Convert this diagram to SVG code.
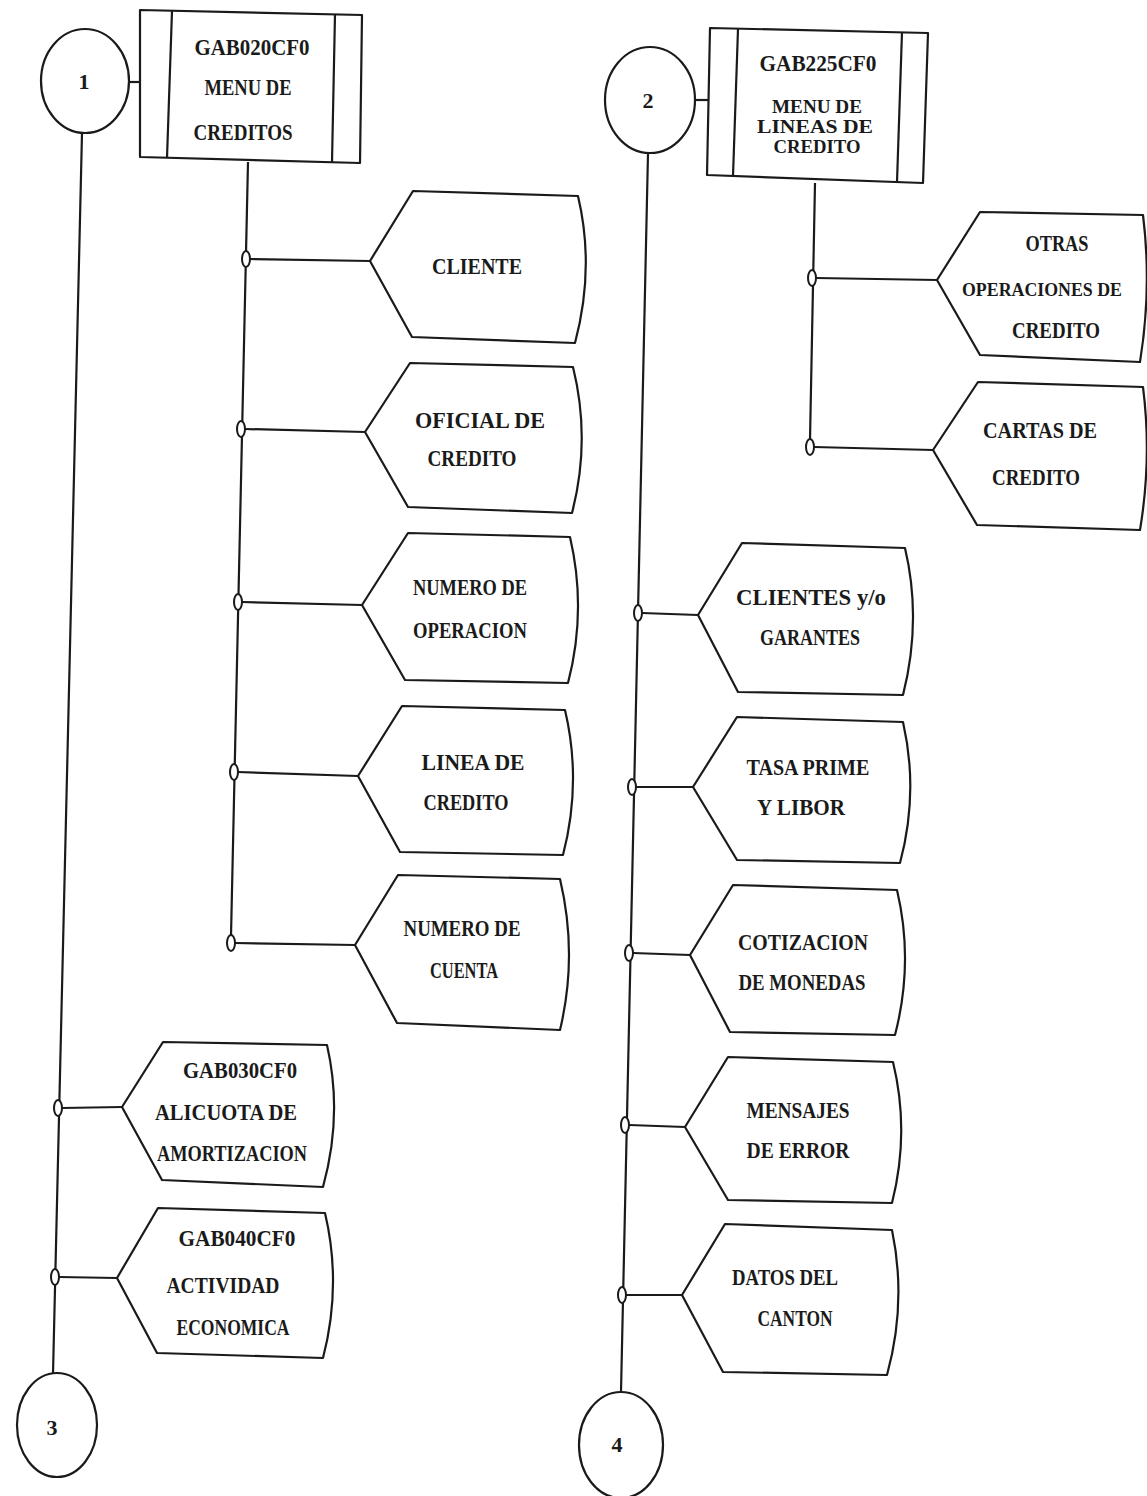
<svg xmlns="http://www.w3.org/2000/svg" width="1147" height="1496" viewBox="0 0 1147 1496">
<style>
.s{fill:#fff;stroke:#1a1a1a;stroke-width:2.2;stroke-linejoin:round}
.l{fill:none;stroke:#1a1a1a;stroke-width:2.2}
.j{fill:#fff;stroke:#1a1a1a;stroke-width:2}
.t{font-family:"Liberation Serif","DejaVu Serif",serif;font-weight:bold;font-size:23px;fill:#1a1a1a;text-anchor:middle}
.tc{font-size:19px}
.n{font-family:"Liberation Serif","DejaVu Serif",serif;font-weight:bold;font-size:22px;fill:#1a1a1a;text-anchor:middle}
</style>
<rect width="1147" height="1496" fill="#fff"/>
<g id="connectors">
<line class="l" x1="82" y1="133" x2="53" y2="1374"/>
<line class="l" x1="648" y1="153" x2="621" y2="1392"/>
<line class="l" x1="248" y1="162" x2="231" y2="936"/>
<line class="l" x1="815" y1="183" x2="810" y2="440"/>
<line class="l" x1="129" y1="82" x2="141" y2="82"/>
<line class="l" x1="695" y1="100" x2="709" y2="100"/>
<line class="l" x1="250" y1="259" x2="370" y2="261"/>
<line class="l" x1="245" y1="429" x2="365" y2="432"/>
<line class="l" x1="242" y1="602" x2="362" y2="605"/>
<line class="l" x1="238" y1="772" x2="358" y2="776"/>
<line class="l" x1="235" y1="943" x2="355" y2="945"/>
<line class="l" x1="62" y1="1108" x2="122" y2="1107"/>
<line class="l" x1="59" y1="1277" x2="117" y2="1278"/>
<line class="l" x1="816" y1="278" x2="937" y2="280"/>
<line class="l" x1="814" y1="447" x2="933" y2="450"/>
<line class="l" x1="642" y1="613" x2="698" y2="615"/>
<line class="l" x1="636" y1="787" x2="693" y2="787"/>
<line class="l" x1="633" y1="953" x2="690" y2="955"/>
<line class="l" x1="629" y1="1125" x2="685" y2="1127"/>
<line class="l" x1="626" y1="1295" x2="682" y2="1295"/>
<ellipse class="j" cx="246" cy="259" rx="4" ry="8"/>
<ellipse class="j" cx="241" cy="429" rx="4" ry="8"/>
<ellipse class="j" cx="238" cy="602" rx="4" ry="8"/>
<ellipse class="j" cx="234" cy="772" rx="4" ry="8"/>
<ellipse class="j" cx="231" cy="943" rx="4" ry="8"/>
<ellipse class="j" cx="58" cy="1108" rx="4" ry="8"/>
<ellipse class="j" cx="55" cy="1277" rx="4" ry="8"/>
<ellipse class="j" cx="812" cy="278" rx="4" ry="8"/>
<ellipse class="j" cx="810" cy="447" rx="4" ry="8"/>
<ellipse class="j" cx="638" cy="613" rx="4" ry="8"/>
<ellipse class="j" cx="632" cy="787" rx="4" ry="8"/>
<ellipse class="j" cx="629" cy="953" rx="4" ry="8"/>
<ellipse class="j" cx="625" cy="1125" rx="4" ry="8"/>
<ellipse class="j" cx="622" cy="1295" rx="4" ry="8"/>
</g>
<g id="c1"><ellipse class="s" cx="85" cy="81" rx="44" ry="52"/><text class="n" x="84" y="89">1</text></g>
<g id="c2"><ellipse class="s" cx="650" cy="100" rx="45" ry="53"/><text class="n" x="648" y="108">2</text></g>
<g id="c3"><ellipse class="s" cx="57" cy="1425" rx="40" ry="52"/><text class="n" x="52" y="1435">3</text></g>
<g id="c4"><ellipse class="s" cx="621" cy="1445" rx="42" ry="53"/><text class="n" x="617" y="1452">4</text></g>
<g id="menu-creditos">
<path class="s" d="M140,10 L362,15 L360,163 L140,157 Z"/>
<line class="l" x1="172" y1="11" x2="167" y2="158"/>
<line class="l" x1="335" y1="14" x2="332" y2="162"/>
<text class="t" x="252" y="55" textLength="115" lengthAdjust="spacingAndGlyphs">GAB020CF0</text>
<text class="t" x="248" y="95" textLength="87" lengthAdjust="spacingAndGlyphs">MENU DE</text>
<text class="t" x="243" y="140" textLength="99" lengthAdjust="spacingAndGlyphs">CREDITOS</text>
</g>
<g id="menu-lineas">
<path class="s" d="M710,28 L928,33 L923,183 L707,175 Z"/>
<line class="l" x1="738" y1="29" x2="733" y2="176"/>
<line class="l" x1="902" y1="32" x2="897" y2="182"/>
<text class="t" x="818" y="71" textLength="117" lengthAdjust="spacingAndGlyphs">GAB225CF0</text>
<text class="t tc" x="817" y="113" textLength="90" lengthAdjust="spacingAndGlyphs">MENU DE</text>
<text class="t tc" x="815" y="133" textLength="116" lengthAdjust="spacingAndGlyphs">LINEAS DE</text>
<text class="t tc" x="817" y="153" textLength="87" lengthAdjust="spacingAndGlyphs">CREDITO</text>
</g>
<g id="cliente">
<path class="s" d="M370,261 L413,191 L578,196 Q595,268 575,343 L412,337 Z"/>
<text class="t" x="477" y="274" textLength="90" lengthAdjust="spacingAndGlyphs">CLIENTE</text>
</g>
<g id="oficial">
<path class="s" d="M365,432 L410,363 L573,367 Q591,440 572,513 L408,507 Z"/>
<text class="t" x="480" y="428" textLength="130" lengthAdjust="spacingAndGlyphs">OFICIAL DE</text>
<text class="t" x="472" y="466" textLength="89" lengthAdjust="spacingAndGlyphs">CREDITO</text>
</g>
<g id="numero-operacion">
<path class="s" d="M362,605 L408,533 L570,537 Q587,610 568,683 L405,680 Z"/>
<text class="t" x="470" y="595" textLength="114" lengthAdjust="spacingAndGlyphs">NUMERO DE</text>
<text class="t" x="470" y="638" textLength="114" lengthAdjust="spacingAndGlyphs">OPERACION</text>
</g>
<g id="linea-credito">
<path class="s" d="M358,776 L402,706 L565,710 Q582,782 563,855 L400,852 Z"/>
<text class="t" x="473" y="770" textLength="103" lengthAdjust="spacingAndGlyphs">LINEA DE</text>
<text class="t" x="466" y="810" textLength="85" lengthAdjust="spacingAndGlyphs">CREDITO</text>
</g>
<g id="numero-cuenta">
<path class="s" d="M355,945 L398,875 L560,879 Q578,955 560,1030 L397,1023 Z"/>
<text class="t" x="462" y="936" textLength="117" lengthAdjust="spacingAndGlyphs">NUMERO DE</text>
<text class="t" x="464" y="978" textLength="68" lengthAdjust="spacingAndGlyphs">CUENTA</text>
</g>
<g id="gab030">
<path class="s" d="M122,1107 L163,1042 L327,1045 Q343,1115 323,1187 L162,1180 Z"/>
<text class="t" x="240" y="1078" textLength="114" lengthAdjust="spacingAndGlyphs">GAB030CF0</text>
<text class="t" x="226" y="1120" textLength="142" lengthAdjust="spacingAndGlyphs">ALICUOTA DE</text>
<text class="t" x="232" y="1161" textLength="150" lengthAdjust="spacingAndGlyphs">AMORTIZACION</text>
</g>
<g id="gab040">
<path class="s" d="M117,1278 L158,1208 L325,1213 Q342,1285 323,1358 L157,1353 Z"/>
<text class="t" x="237" y="1246" textLength="117" lengthAdjust="spacingAndGlyphs">GAB040CF0</text>
<text class="t" x="223" y="1293" textLength="113" lengthAdjust="spacingAndGlyphs">ACTIVIDAD</text>
<text class="t" x="233" y="1335" textLength="113" lengthAdjust="spacingAndGlyphs">ECONOMICA</text>
</g>
<g id="otras">
<path class="s" d="M937,280 L980,212 L1143,215 Q1152,288 1140,362 L980,355 Z"/>
<text class="t" x="1057" y="251" textLength="63" lengthAdjust="spacingAndGlyphs">OTRAS</text>
<text class="t tc" x="1042" y="296" textLength="160" lengthAdjust="spacingAndGlyphs">OPERACIONES DE</text>
<text class="t" x="1056" y="338" textLength="88" lengthAdjust="spacingAndGlyphs">CREDITO</text>
</g>
<g id="cartas">
<path class="s" d="M933,450 L978,382 L1143,387 Q1152,458 1140,530 L977,525 Z"/>
<text class="t" x="1040" y="438" textLength="114" lengthAdjust="spacingAndGlyphs">CARTAS DE</text>
<text class="t" x="1036" y="485" textLength="88" lengthAdjust="spacingAndGlyphs">CREDITO</text>
</g>
<g id="clientes-garantes">
<path class="s" d="M698,615 L742,543 L905,548 Q922,620 903,695 L738,692 Z"/>
<text class="t" x="811" y="605" textLength="150" lengthAdjust="spacingAndGlyphs">CLIENTES y/o</text>
<text class="t" x="810" y="645" textLength="100" lengthAdjust="spacingAndGlyphs">GARANTES</text>
</g>
<g id="tasa">
<path class="s" d="M693,787 L737,717 L903,722 Q919,792 900,863 L737,860 Z"/>
<text class="t" x="808" y="775" textLength="123" lengthAdjust="spacingAndGlyphs">TASA PRIME</text>
<text class="t" x="801" y="815" textLength="88" lengthAdjust="spacingAndGlyphs">Y LIBOR</text>
</g>
<g id="cotizacion">
<path class="s" d="M690,955 L733,885 L897,890 Q914,962 895,1035 L730,1032 Z"/>
<text class="t" x="803" y="950" textLength="130" lengthAdjust="spacingAndGlyphs">COTIZACION</text>
<text class="t" x="802" y="990" textLength="127" lengthAdjust="spacingAndGlyphs">DE MONEDAS</text>
</g>
<g id="mensajes">
<path class="s" d="M685,1127 L728,1057 L893,1062 Q910,1132 892,1203 L728,1200 Z"/>
<text class="t" x="798" y="1118" textLength="103" lengthAdjust="spacingAndGlyphs">MENSAJES</text>
<text class="t" x="798" y="1158" textLength="103" lengthAdjust="spacingAndGlyphs">DE ERROR</text>
</g>
<g id="datos-canton">
<path class="s" d="M682,1295 L725,1224 L892,1230 Q907,1302 887,1375 L723,1372 Z"/>
<text class="t" x="785" y="1285" textLength="106" lengthAdjust="spacingAndGlyphs">DATOS DEL</text>
<text class="t" x="795" y="1326" textLength="75" lengthAdjust="spacingAndGlyphs">CANTON</text>
</g>
</svg>
